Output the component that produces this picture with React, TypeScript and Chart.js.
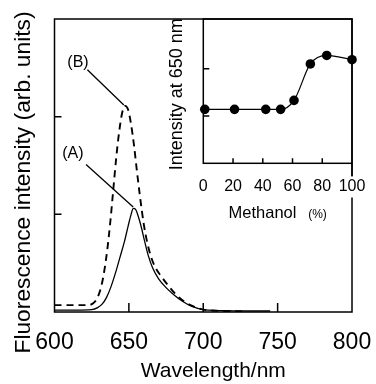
import React, { useEffect, useRef } from "react";
import { Chart, registerables } from "chart.js";

Chart.register(...registerables);

// ---- Main spectrum data ----
const wavelengthA = [600, 615, 625, 629, 632, 635, 638, 641, 644, 647, 649.5, 651.5, 653, 654.5, 656.5, 658.5, 660.5, 663, 666, 670, 675, 680, 686, 692, 700, 720, 745];
const intensityA = [0.02, 0.02, 0.025, 0.045, 0.08, 0.15, 0.26, 0.4, 0.56, 0.72, 0.88, 1.0, 1.06, 1.05, 0.97, 0.86, 0.73, 0.58, 0.45, 0.34, 0.25, 0.18, 0.11, 0.06, 0.025, 0.012, 0.01];
const wavelengthB = [600, 615, 622, 626, 629, 632, 635, 637.5, 639.5, 641.5, 643.5, 645.5, 647.5, 649.5, 651.5, 653.5, 655.5, 657.5, 660, 662.5, 665, 668, 672, 676, 681, 687, 693, 700, 710, 728];
const intensityB = [0.07, 0.07, 0.07, 0.09, 0.15, 0.3, 0.58, 0.92, 1.25, 1.58, 1.85, 2.04, 2.11, 2.07, 1.92, 1.7, 1.43, 1.18, 0.9, 0.7, 0.56, 0.45, 0.36, 0.28, 0.19, 0.11, 0.06, 0.025, 0.012, 0.006];
const wavelengthTicks = [600, 650, 700, 750, 800];
const intensityTicks = [1, 2];

// ---- Peak labels ----
const peakLabels = ["(A)", "(B)"];
const labelWavelength = [612.3, 615.8];
const labelIntensity = [1.62, 2.55];
const leaderStartWavelength = [621.2, 622.1];
const leaderStartIntensity = [1.51, 2.48];
const leaderEndWavelength = [652.9, 646.6];
const leaderEndIntensity = [1.075, 2.12];

// ---- Inset data ----
const methanolPercent = [1, 21, 42, 52, 61, 72, 83, 100];
const intensity650 = [1.14, 1.14, 1.14, 1.14, 1.33, 2.1, 2.28, 2.19];
const methanolTicks = [0, 20, 40, 60, 80, 100];
const insetIntensityTicks = [1, 2];

const FONT = '"Liberation Sans", Arial, Helvetica, sans-serif';

type TextItem = { text: string; x: number; y: number; size: number; rotate?: boolean };

function framePlugin(xTicks: number[], yTicks: number[], xLen: number, yLen: number, extraRightDown: number) {
  return {
    id: "frame",
    beforeDatasetsDraw(chart: any) {
      const { ctx, chartArea: a, scales } = chart;
      ctx.save();
      ctx.strokeStyle = "#000";
      ctx.lineWidth = 1.5;
      ctx.strokeRect(a.left, a.top, a.right - a.left, a.bottom - a.top);
      ctx.beginPath();
      for (const v of xTicks) {
        const px = scales.x.getPixelForValue(v);
        ctx.moveTo(px, a.bottom);
        ctx.lineTo(px, a.bottom - xLen);
      }
      for (const v of yTicks) {
        const py = scales.y.getPixelForValue(v);
        ctx.moveTo(a.left, py);
        ctx.lineTo(a.left + yLen, py);
      }
      if (extraRightDown > 0) {
        ctx.moveTo(a.right, a.bottom);
        ctx.lineTo(a.right, a.bottom + extraRightDown);
      }
      ctx.stroke();
      ctx.restore();
    },
  };
}

function textPlugin(items: TextItem[]) {
  return {
    id: "texts",
    afterDraw(chart: any) {
      const { ctx } = chart;
      for (const t of items) {
        ctx.save();
        ctx.font = `${t.size}px ${FONT}`;
        ctx.fillStyle = "#000";
        ctx.textAlign = "center";
        ctx.textBaseline = "alphabetic";
        ctx.translate(t.x, t.y);
        if (t.rotate) ctx.rotate(-Math.PI / 2);
        ctx.fillText(t.text, 0, 0);
        ctx.restore();
      }
    },
  };
}

const annotationPlugin = {
  id: "peakLabels",
  afterDatasetsDraw(chart: any) {
    const { ctx, scales } = chart;
    const sx = scales.x;
    const sy = scales.y;
    ctx.save();
    ctx.strokeStyle = "#000";
    ctx.lineWidth = 1.3;
    ctx.fillStyle = "#000";
    ctx.font = `16px ${FONT}`;
    ctx.textAlign = "center";
    ctx.textBaseline = "middle";
    for (let i = 0; i < peakLabels.length; i++) {
      ctx.fillText(peakLabels[i], sx.getPixelForValue(labelWavelength[i]), sy.getPixelForValue(labelIntensity[i]));
      ctx.beginPath();
      ctx.moveTo(sx.getPixelForValue(leaderStartWavelength[i]), sy.getPixelForValue(leaderStartIntensity[i]));
      ctx.lineTo(sx.getPixelForValue(leaderEndWavelength[i]), sy.getPixelForValue(leaderEndIntensity[i]));
      ctx.stroke();
    }
    ctx.restore();
  },
};

export default function App() {
  const mainRef = useRef<HTMLCanvasElement>(null);
  const insetRef = useRef<HTMLCanvasElement>(null);

  useEffect(() => {
    if (!mainRef.current || !insetRef.current) return;

    const main = new Chart(mainRef.current, {
      type: "line",
      data: {
        datasets: [
          {
            label: "A",
            data: wavelengthA.map((x, i) => ({ x, y: intensityA[i] })),
            borderColor: "#000",
            borderWidth: 1.3,
            pointRadius: 0,
            cubicInterpolationMode: "monotone",
            fill: false,
          },
          {
            label: "B",
            data: wavelengthB.map((x, i) => ({ x, y: intensityB[i] })),
            borderColor: "#000",
            borderWidth: 1.9,
            borderDash: [7, 5],
            pointRadius: 0,
            cubicInterpolationMode: "monotone",
            fill: false,
          },
        ],
      },
      options: {
        responsive: false,
        animation: false,
        layout: { padding: { left: 0, right: 24, top: 19, bottom: 0 } },
        plugins: { legend: { display: false }, tooltip: { enabled: false } },
        scales: {
          x: {
            type: "linear",
            min: 600,
            max: 800,
            grid: { display: false, drawTicks: false },
            border: { display: false },
            afterBuildTicks: (s: any) => {
              s.ticks = wavelengthTicks.map((v) => ({ value: v }));
            },
            ticks: { padding: 16.5, color: "#000", font: { family: FONT, size: 23 }, maxRotation: 0, autoSkip: false },
            afterFit: (s: any) => {
              s.height = 72;
              s.paddingLeft = 0;
              s.paddingRight = 0;
            },
          },
          y: {
            type: "linear",
            min: 0,
            max: 3,
            grid: { display: false, drawTicks: false },
            border: { display: false },
            ticks: { display: false },
            afterFit: (s: any) => {
              s.width = 54.5;
              s.paddingTop = 0;
              s.paddingBottom = 0;
            },
          },
        },
      } as any,
      plugins: [
        framePlugin(wavelengthTicks.slice(1, 4), intensityTicks, 9, 7, 0),
        annotationPlugin,
        textPlugin([
          { text: "Fluorescence intensity (arb. units)", x: 30, y: 182.5, size: 22.8, rotate: true },
          { text: "Wavelength/nm", x: 213.3, y: 377, size: 21 },
        ]),
      ],
    });

    const inset = new Chart(insetRef.current, {
      type: "line",
      data: {
        datasets: [
          {
            label: "Intensity at 650 nm",
            data: methanolPercent.map((x, i) => ({ x, y: intensity650[i] })),
            borderColor: "#000",
            borderWidth: 1.2,
            pointRadius: 4.8,
            pointBackgroundColor: "#000",
            pointBorderColor: "#000",
            pointBorderWidth: 0,
            cubicInterpolationMode: "monotone",
            fill: false,
            clip: false,
          },
        ],
      },
      options: {
        responsive: false,
        animation: false,
        layout: { padding: { left: 0, right: 24, top: 19, bottom: 0 } },
        plugins: { legend: { display: false }, tooltip: { enabled: false } },
        scales: {
          x: {
            type: "linear",
            min: 0,
            max: 100,
            grid: { display: false, drawTicks: false },
            border: { display: false },
            afterBuildTicks: (s: any) => {
              s.ticks = methanolTicks.map((v) => ({ value: v }));
            },
            ticks: {
              padding: 14,
              color: "#000",
              font: { family: FONT, size: 16 },
              maxRotation: 0,
              autoSkip: false,
              showLabelBackdrop: true,
              backdropColor: "#fff",
              backdropPadding: 1,
            },
            afterFit: (s: any) => {
              s.height = 66.7;
              s.paddingLeft = 0;
              s.paddingRight = 0;
            },
          },
          y: {
            type: "linear",
            min: 0,
            max: 3.05,
            grid: { display: false, drawTicks: false },
            border: { display: false },
            ticks: { display: false },
            afterFit: (s: any) => {
              s.width = 43.3;
              s.paddingTop = 0;
              s.paddingBottom = 0;
            },
          },
        },
      } as any,
      plugins: [
        framePlugin(methanolTicks.slice(1, 5), insetIntensityTicks, 5, 6, 13),
        textPlugin([
          { text: "Intensity at 650 nm", x: 22, y: 94.3, size: 18, rotate: true },
          { text: "Methanol", x: 102.5, y: 218, size: 16.5 },
          { text: "(%)", x: 157.5, y: 217.5, size: 12 },
        ]),
      ],
    });

    return () => {
      main.destroy();
      inset.destroy();
    };
  }, []);

  return (
    <div style={{ position: "fixed", left: 0, top: 0, width: 376, height: 384, background: "#fff" }}>
      <canvas ref={mainRef} width={376} height={384} style={{ position: "absolute", left: 0, top: 0 }} />
      <canvas ref={insetRef} width={216} height={230} style={{ position: "absolute", left: 160, top: 0 }} />
    </div>
  );
}
